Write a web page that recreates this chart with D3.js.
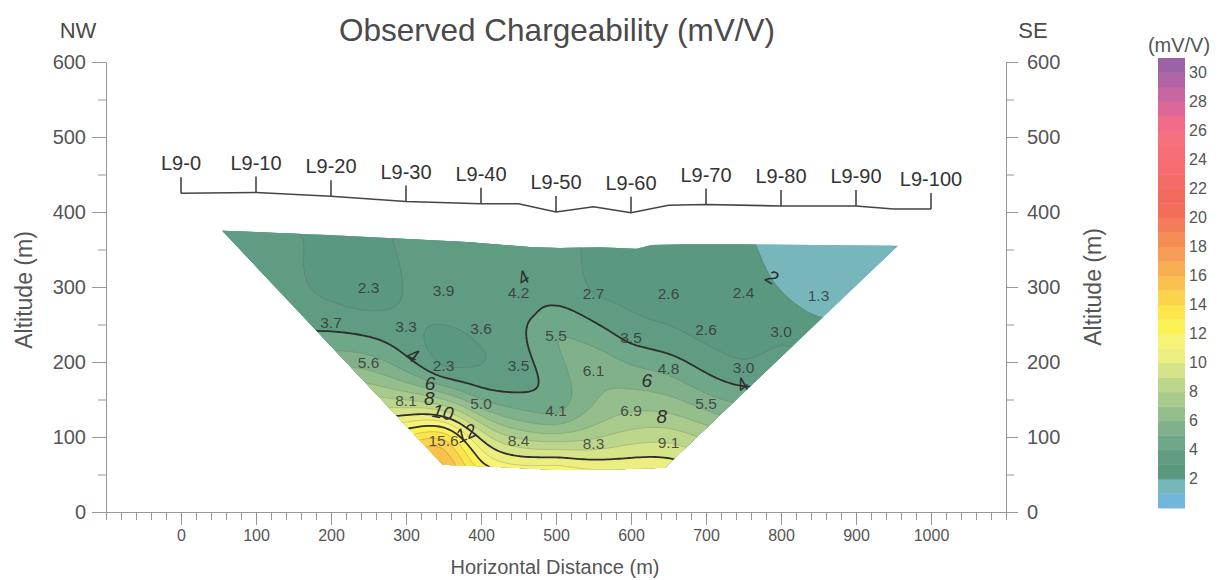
<!DOCTYPE html>
<html>
<head>
<meta charset="utf-8">
<script src="https://cdn.jsdelivr.net/npm/d3@7"></script>
<style>
  body { margin: 0; background: #fff; }
  svg { font-family: Arial, "Liberation Sans", sans-serif; }
</style>
</head>
<body>
<svg width="1219" height="580"></svg>
<script>
var stationNames = ["L9-0", "L9-10", "L9-20", "L9-30", "L9-40", "L9-50", "L9-60", "L9-70", "L9-80", "L9-90", "L9-100"];
var stationX = [0, 100, 200, 300, 400, 500, 600, 700, 800, 900, 1000];

// topography along the line (m)
var topoX = [0, 100, 200, 300, 400, 450, 500, 550, 600, 650, 700, 800, 900, 950, 1000];
var topoZ = [425, 426, 421, 414, 411, 411, 400, 407, 399, 409, 410, 408, 408, 404, 404];

// posted chargeability values (mV/V)
var postX = [250, 350, 450, 550, 650, 750, 850,
             200, 300, 400, 500, 600, 700, 800,
             250, 350, 450, 550, 650, 750,
             300, 400, 500, 600, 700,
             350, 450, 550, 650];
var postZ = [300, 295, 293, 292, 292, 293, 289,
             253, 248, 245, 236, 233, 243, 241,
             200, 196, 195, 189, 192, 193,
             149, 145, 136, 135, 145,
             95, 95, 91, 93];
var postV = [2.3, 3.9, 4.2, 2.7, 2.6, 2.4, 1.3,
             3.7, 3.3, 3.6, 5.5, 3.5, 2.6, 3.0,
             5.6, 2.3, 3.5, 6.1, 4.8, 3.0,
             8.1, 5.0, 4.1, 6.9, 5.5,
             15.6, 8.4, 8.3, 9.1];

// unposted values, estimated from the fill colours
var edgeX = [100, 200, 300, 400, 500, 600, 700, 800, 900, 150, 160, 470, 290, 350, 400, 500, 600];
var edgeZ = [368, 362, 358, 352, 346, 346, 350, 350, 348, 305, 250, 266, 122, 64, 62, 60, 60];
var edgeV = [3.3, 3.0, 3.2, 3.4, 3.3, 3.0, 2.6, 1.7, 1.25, 3.2, 3.6, 3.6, 10.2, 16.0, 11.7, 11.6, 10.7];

// outline of the gridded section
var outlineX = [55, 203, 381, 469, 505, 559, 607, 628, 673, 741, 956, 645, 585, 505, 425, 349];
var outlineZ = [375, 369, 360, 353, 352, 353, 351, 356, 357, 357, 355, 59, 57, 56, 60, 63];

// contour annotations
var contourLabelV = [4, 4, 4, 2, 6, 8, 10, 12, 6, 8];
var contourLabelX = [456, 309, 748, 788, 332, 331, 349, 380, 621, 641];
var contourLabelZ = [312, 209, 169, 313, 171, 152, 133, 105, 175, 127];

var altTicks = [0, 100, 200, 300, 400, 500, 600];
var distTicks = [0, 100, 200, 300, 400, 500, 600, 700, 800, 900, 1000];
var barTicks = [2, 4, 6, 8, 10, 12, 14, 16, 18, 20, 22, 24, 26, 28, 30];

// ---- style ----
var labelAngle = [-35, 25, -40, 30, 0, 0, 10, -25, 0, 0];
var bandColours = [
  "#72b6da", "#77b7bb", "#5b9880", "#5f9c82", "#6ea888", "#80b18b", "#94be8c", "#a8ca8c",
  "#bcd68b", "#d6e489", "#ecef7f", "#f7f376", "#fdf254", "#fde64c", "#fcd34c", "#fbc14e",
  "#f9ad52", "#f89d55", "#f68c56", "#f57c58", "#f36e59", "#f2695e", "#f46b68", "#f66c70",
  "#f76e78", "#f7707f", "#f06b88", "#dd6898", "#c866a2", "#b063a5", "#9c62a6"];
var textGrey = "#4a4a4a";

var svg = d3.select("svg");
var x = d3.scaleLinear().domain([-100, 1100]).range([106, 1006]);
var y = d3.scaleLinear().domain([0, 600]).range([512, 62]);

// ---- thin plate spline gridding (smoothed) ----
function kern(dx, dz) {
  var r = Math.sqrt(dx * dx + dz * dz);
  return r > 0 ? r * r * Math.log(r) : 0;
}

function fitSpline(px, pz, pv, lambda) {
  var n = px.length, m = n + 3, A = [], b = [], i, j, k;
  var sx = px.map(function (d) { return d / 100; }), sz = pz.map(function (d) { return d / 100; });
  for (i = 0; i < m; i++) { A.push(new Array(m).fill(0)); b.push(0); }
  for (i = 0; i < n; i++) {
    for (j = 0; j < n; j++) A[i][j] = kern(sx[i] - sx[j], sz[i] - sz[j]);
    A[i][i] += lambda;
    A[i][n] = 1; A[i][n + 1] = sx[i]; A[i][n + 2] = sz[i];
    A[n][i] = 1; A[n + 1][i] = sx[i]; A[n + 2][i] = sz[i];
    b[i] = pv[i];
  }
  for (k = 0; k < m; k++) {
    var p = k;
    for (i = k + 1; i < m; i++) if (Math.abs(A[i][k]) > Math.abs(A[p][k])) p = i;
    var t = A[k]; A[k] = A[p]; A[p] = t;
    var tb = b[k]; b[k] = b[p]; b[p] = tb;
    for (i = k + 1; i < m; i++) {
      var f = A[i][k] / A[k][k];
      for (j = k; j < m; j++) A[i][j] -= f * A[k][j];
      b[i] -= f * b[k];
    }
  }
  var w = new Array(m).fill(0);
  for (i = m - 1; i >= 0; i--) {
    var s = b[i];
    for (j = i + 1; j < m; j++) s -= A[i][j] * w[j];
    w[i] = s / A[i][i];
  }
  return function (xx, zz) {
    var u = xx / 100, v = zz / 100, s = w[n] + w[n + 1] * u + w[n + 2] * v;
    for (var q = 0; q < n; q++) s += w[q] * kern(u - sx[q], v - sz[q]);
    return s;
  };
}

var allX = postX.concat(edgeX), allZ = postZ.concat(edgeZ), allV = postV.concat(edgeV);
var spline = fitSpline(allX, allZ, allV, 0.18);

var step = 4, gx0 = 20, gzTop = 392;
var nx = Math.ceil((990 - gx0) / step) + 1, nz = Math.ceil((gzTop - 40) / step) + 1;
var grid = new Float64Array(nx * nz);
for (var j = 0; j < nz; j++) {
  for (var i = 0; i < nx; i++) {
    var val = spline(gx0 + i * step, gzTop - j * step);
    grid[j * nx + i] = Math.max(0.01, Math.min(30.9, val));
  }
}

var toScreen = d3.geoTransform({
  point: function (gx, gy) {
    this.stream.point(x(gx0 + (gx - 0.5) * step), y(gzTop - (gy - 0.5) * step));
  }
});
var gridPath = d3.geoPath(toScreen);
var contours = d3.contours().size([nx, nz]);

svg.append("clipPath").attr("id", "section")
  .append("path")
  .attr("d", d3.line().x(function (d) { return x(d); }).y(function (d, k) { return y(outlineZ[k]); })(outlineX) + "Z");

var sec = svg.append("g").attr("clip-path", "url(#section)");

// filled bands
sec.selectAll("path.band")
  .data(contours.thresholds(d3.range(0, 31))(grid))
  .join("path")
  .attr("class", "band")
  .attr("d", gridPath)
  .attr("fill", function (d) { return bandColours[d.value]; })
  .attr("stroke", function (d) { return bandColours[d.value]; })
  .attr("stroke-width", 0.5);

// thin contour lines every unit
sec.selectAll("path.thin")
  .data(contours.thresholds(d3.range(1, 31))(grid))
  .join("path")
  .attr("class", "thin")
  .attr("d", gridPath)
  .attr("fill", "none")
  .attr("stroke", "#4d5a50")
  .attr("stroke-opacity", 0.35)
  .attr("stroke-width", 0.7);

// heavy contours
sec.selectAll("path.heavy")
  .data(contours.thresholds([4, 10, 12])(grid))
  .join("path")
  .attr("class", "heavy")
  .attr("d", gridPath)
  .attr("fill", "none")
  .attr("stroke", "#2e2e2e")
  .attr("stroke-width", 1.8);

// posted values
svg.append("g").selectAll("text")
  .data(postV)
  .join("text")
  .attr("x", function (d, k) { return x(postX[k]); })
  .attr("y", function (d, k) { return y(postZ[k]); })
  .attr("text-anchor", "middle")
  .attr("dominant-baseline", "central")
  .attr("font-size", 15.5)
  .attr("fill", "#363636")
  .attr("fill-opacity", 0.85)
  .text(function (d) { return d.toFixed(1); });

// contour annotations
svg.append("g").selectAll("text")
  .data(contourLabelV)
  .join("text")
  .attr("transform", function (d, k) {
    return "translate(" + x(contourLabelX[k]) + "," + y(contourLabelZ[k]) + ") rotate(" + labelAngle[k] + ")";
  })
  .attr("text-anchor", "middle")
  .attr("dominant-baseline", "central")
  .attr("font-size", 19)
  .attr("font-style", "italic")
  .attr("fill", "#2e2e2e")
  .text(function (d) { return d; });

// ---- topography and stations ----
svg.append("path")
  .datum(topoX)
  .attr("d", d3.line().x(function (d) { return x(d); }).y(function (d, k) { return y(topoZ[k]); }))
  .attr("fill", "none")
  .attr("stroke", "#444")
  .attr("stroke-width", 1.6);

var stationZ = stationX.map(function (s) { return topoZ[topoX.indexOf(s)]; });
var st = svg.append("g").selectAll("g")
  .data(stationNames)
  .join("g")
  .attr("transform", function (d, k) { return "translate(" + x(stationX[k]) + "," + y(stationZ[k]) + ")"; });
st.append("line").attr("y1", 0).attr("y2", -16).attr("stroke", "#444").attr("stroke-width", 1.6);
st.append("text").attr("y", -23).attr("text-anchor", "middle")
  .attr("font-size", 20).attr("fill", "#333").text(function (d) { return d; });

// ---- axes ----
function tidy(g, size) {
  g.attr("font-family", null).attr("font-size", size);
  g.select(".domain").attr("stroke", "#8c8c8c").attr("stroke-width", 0.9);
  g.selectAll(".tick line").attr("stroke", "#8c8c8c").attr("stroke-width", 0.9);
  g.selectAll(".tick text").attr("fill", "#555");
}
function minor(g) { g.select(".domain").remove(); tidy(g, 10); }

svg.append("g").attr("transform", "translate(106,0)")
  .call(d3.axisLeft(y).tickValues(d3.range(50, 600, 100)).tickSize(8).tickFormat("")).call(minor);
svg.append("g").attr("transform", "translate(106,0)")
  .call(d3.axisLeft(y).tickValues(altTicks).tickSize(14).tickPadding(6).tickSizeOuter(0))
  .call(tidy, 20);

svg.append("g").attr("transform", "translate(1006,0)")
  .call(d3.axisRight(y).tickValues(d3.range(50, 600, 100)).tickSize(8).tickFormat("")).call(minor);
svg.append("g").attr("transform", "translate(1006,0)")
  .call(d3.axisRight(y).tickValues(altTicks).tickSize(12).tickPadding(9).tickSizeOuter(0))
  .call(tidy, 20);

svg.append("g").attr("transform", "translate(0,512)")
  .call(d3.axisBottom(x).tickValues(d3.range(-100, 1101, 20)).tickSize(8).tickFormat("")).call(minor);
svg.append("g").attr("transform", "translate(0,512)")
  .call(d3.axisBottom(x).tickValues(distTicks).tickSize(13).tickPadding(5).tickSizeOuter(0).tickFormat(d3.format("d")))
  .call(tidy, 16);

// ---- titles ----
svg.append("text").attr("x", 557).attr("y", 41).attr("text-anchor", "middle")
  .attr("font-size", 31.5).attr("fill", textGrey).text("Observed Chargeability (mV/V)");
svg.append("text").attr("x", 78).attr("y", 38).attr("text-anchor", "middle")
  .attr("font-size", 22).attr("fill", textGrey).text("NW");
svg.append("text").attr("x", 1033).attr("y", 38).attr("text-anchor", "middle")
  .attr("font-size", 22).attr("fill", textGrey).text("SE");
svg.append("text").attr("transform", "translate(32,290) rotate(-90)").attr("text-anchor", "middle")
  .attr("font-size", 23).attr("fill", "#555").text("Altitude (m)");
svg.append("text").attr("transform", "translate(1101,287) rotate(-90)").attr("text-anchor", "middle")
  .attr("font-size", 23).attr("fill", "#555").text("Altitude (m)");
svg.append("text").attr("x", 555).attr("y", 574).attr("text-anchor", "middle")
  .attr("font-size", 20).attr("fill", "#555").text("Horizontal Distance (m)");

// ---- colour bar ----
var cb = d3.scaleLinear().domain([0, 31]).range([508, 58]);
var bar = svg.append("g");
bar.selectAll("rect")
  .data(bandColours)
  .join("rect")
  .attr("x", 1158)
  .attr("width", 27)
  .attr("y", function (d, k) { return cb(k + 1); })
  .attr("height", function (d, k) { return cb(k) - cb(k + 1) + 0.4; })
  .attr("fill", function (d) { return d; });
bar.selectAll("text")
  .data(barTicks)
  .join("text")
  .attr("x", 1189)
  .attr("y", function (d) { return cb(d); })
  .attr("dominant-baseline", "central")
  .attr("font-size", 16)
  .attr("fill", "#555")
  .text(function (d) { return d; });
bar.append("text").attr("x", 1179).attr("y", 52).attr("text-anchor", "middle")
  .attr("font-size", 20).attr("fill", "#555").text("(mV/V)");
</script>
</body>
</html>
